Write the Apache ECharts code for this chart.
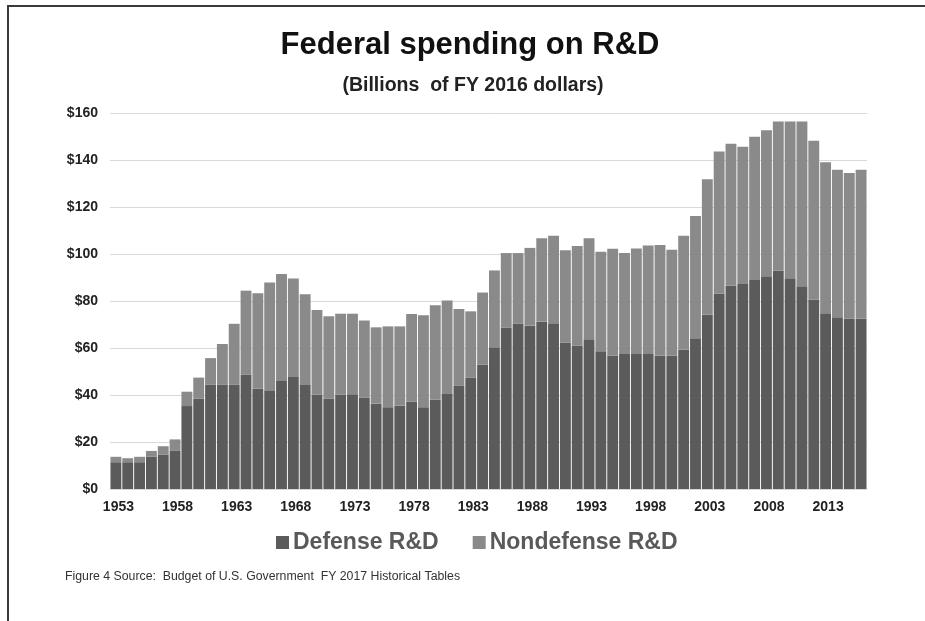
<!DOCTYPE html>
<html>
<head>
<meta charset="utf-8">
<script src="https://cdn.jsdelivr.net/npm/echarts@6/dist/echarts.min.js"></script>
<style>
html,body{margin:0;padding:0;background:#fff;}
#chart{width:925px;height:621px;}
</style>
</head>
<body>
<div id="chart"></div>
<script>
const years = ["1953","1954","1955","1956","1957","1958","1959","1960","1961","1962","1963","1964","1965","1966","1967","1968","1969","1970","1971","1972","1973","1974","1975","1976","1977","1978","1979","1980","1981","1982","1983","1984","1985","1986","1987","1988","1989","1990","1991","1992","1993","1994","1995","1996","1997","1998","1999","2000","2001","2002","2003","2004","2005","2006","2007","2008","2009","2010","2011","2012","2013","2014","2015","2016"];

const defenseRD = [11.4,11.4,11.4,13.7,14.7,16.2,35.3,38.5,44.3,44.3,44.3,48.6,42.7,41.7,46.0,47.7,44.3,40.2,38.5,40.2,40.3,38.9,36.3,34.8,35.5,37.2,34.8,38.0,40.4,43.9,47.3,53.0,60.3,68.7,70.4,69.5,71.2,70.5,62.3,61.1,63.7,58.6,56.8,57.4,57.4,57.4,56.7,56.7,59.3,64.2,74.1,83.2,86.5,87.2,88.9,90.5,93.0,89.7,86.3,80.6,74.8,73.1,72.4,72.4];

const nondefenseRD = [2.3,1.7,2.3,2.5,3.5,4.9,6.1,8.9,11.4,17.4,26.0,35.8,40.6,46.2,45.5,41.9,38.6,36.0,35.0,34.4,34.3,32.8,32.5,34.4,33.7,37.3,39.1,40.2,39.8,32.7,28.3,30.6,32.7,31.7,30.0,33.1,35.5,37.3,39.3,42.3,43.0,42.4,45.4,43.0,44.9,46.2,47.1,45.1,48.5,52.0,57.7,60.4,60.4,58.4,61.0,62.2,63.4,66.7,70.1,67.6,64.2,62.7,62.1,63.4];

const seriesNames = ["Defense R&D","Nondefense R&D"];
const titleText = "Federal spending on R&D";
const subtitleText = "(Billions  of FY 2016 dollars)";
const sourceText = "Figure 4 Source:  Budget of U.S. Government  FY 2017 Historical Tables";

const FONT = "'Liberation Sans', Arial, sans-serif";
const chart = echarts.init(document.getElementById('chart'), null, {renderer:'canvas'});
chart.setOption({
  animation:false,
  backgroundColor:'#ffffff',
  title:[
    {text:titleText, left:470, top:30, padding:0, textAlign:'center',
     textStyle:{fontFamily:FONT, fontSize:31, fontWeight:'bold', color:'#111'}},
    {text:subtitleText, left:473, top:76, padding:0, textAlign:'center',
     textStyle:{fontFamily:FONT, fontSize:19.5, fontWeight:'bold', color:'#222'}},
    {text:sourceText, left:65, top:571, padding:0,
     textStyle:{fontFamily:FONT, fontSize:12.3, fontWeight:'normal', color:'#333'}}
  ],
  legend:{
    data:seriesNames, left:276, top:531, padding:0, itemWidth:13, itemHeight:13, itemGap:34,
    icon:'rect',
    textStyle:{fontFamily:FONT, fontSize:23, fontWeight:'bold', color:'#595959', padding:[0,0,0,-1]}
  },
  grid:{left:110, right:58, top:113, bottom:132, containLabel:false},
  xAxis:{
    type:'category', data:years,
    axisLine:{show:true, lineStyle:{color:'#d9d9d9', width:1}},
    axisTick:{show:false},
    axisLabel:{interval:4, margin:11, padding:[0,0,0,5], fontFamily:FONT, fontSize:14, fontWeight:'bold', color:'#222'}
  },
  yAxis:{
    type:'value', min:0, max:160, interval:20,
    axisLine:{show:false}, axisTick:{show:false},
    splitLine:{lineStyle:{color:'#d9d9d9', width:1}},
    axisLabel:{margin:12, fontFamily:FONT, fontSize:14, fontWeight:'bold', color:'#222',
      formatter:function(v){return '$'+v;}}
  },
  series:[
    {name:seriesNames[0], type:'bar', stack:'rd', data:defenseRD, barCategoryGap:'8%',
     itemStyle:{color:'#5b5b5b'}},
    {name:seriesNames[1], type:'bar', stack:'rd', data:nondefenseRD, barCategoryGap:'8%',
     itemStyle:{color:'#8a8a8a'}}
  ],
  graphic:[
    {type:'line', shape:{x1:8, y1:6, x2:925, y2:6}, style:{stroke:'#3a3a3a', lineWidth:2}, silent:true},
    {type:'line', shape:{x1:8, y1:5, x2:8, y2:621}, style:{stroke:'#3a3a3a', lineWidth:2}, silent:true}
  ]
});
</script>
</body>
</html>
